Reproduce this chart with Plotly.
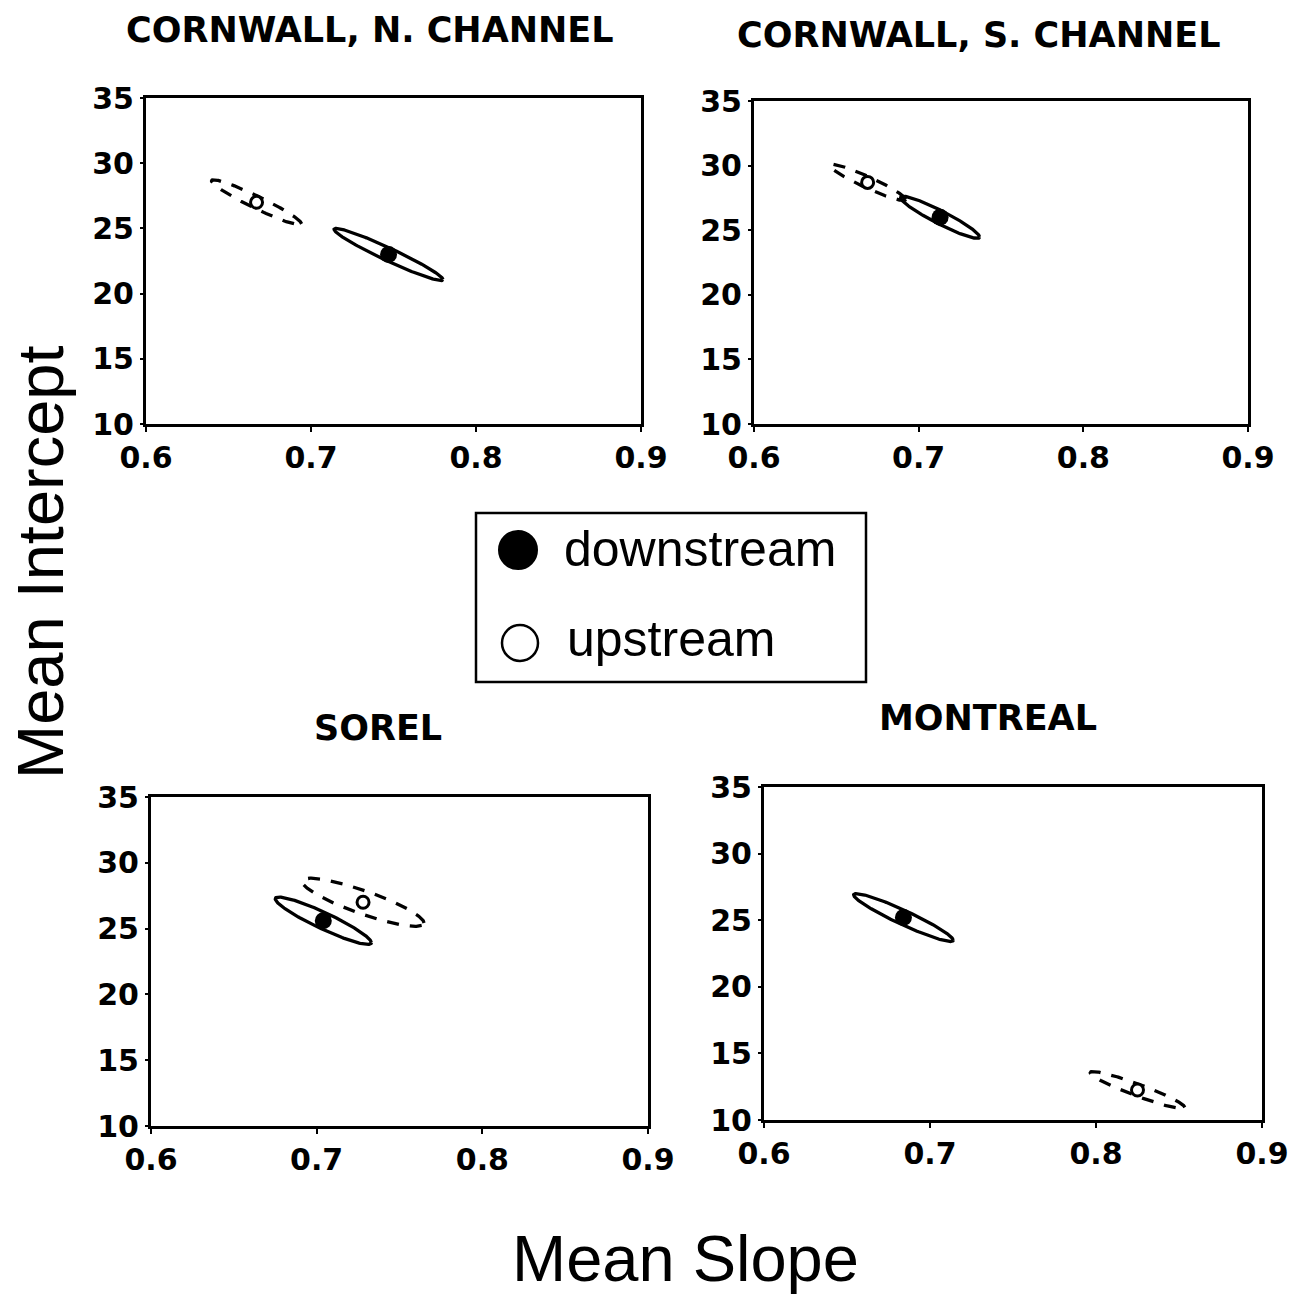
import numpy as np
import plotly.graph_objects as go

W, H = 1303, 1299

# ---------------- data ----------------
panels = ["CORNWALL, N. CHANNEL", "CORNWALL, S. CHANNEL", "SOREL", "MONTREAL"]

down_slope = [0.747, 0.713, 0.704, 0.684]
down_intercept = [23.0, 26.0, 25.6, 25.2]
down_sd_slope = [0.033, 0.024, 0.029, 0.030]
down_sd_intercept = [2.0, 1.63, 1.8, 1.8]
down_r = [-0.963, -0.937, -0.925, -0.946]

up_slope = [0.667, 0.669, 0.728, 0.825]
up_intercept = [27.0, 28.7, 27.0, 12.25]
up_sd_slope = [0.0273, 0.023, 0.0368, 0.0285]
up_sd_intercept = [1.73, 1.4, 1.83, 1.39]
up_r = [-0.954, -0.94, -0.86, -0.94]

x_ticks = [0.6, 0.7, 0.8, 0.9]
y_ticks = [10, 15, 20, 25, 30, 35]
legend_labels = ["downstream", "upstream"]

# ---------------- layout helpers ----------------
# pixel boxes of the four plotting areas: (left, right, top, bottom)
boxes = [(146, 641, 98, 424), (754, 1248, 101, 424),
         (151, 648, 797, 1126), (764, 1262, 787, 1120)]
title_pos = [(370, 30), (978, 35), (378, 728), (988, 718)]

FONT = "Liberation Sans, Arial, sans-serif"
BOLD = "DejaVu Sans, Liberation Sans, sans-serif"


def ellipse(cx, cy, sx, sy, r, n=200):
    t = np.linspace(0, 2 * np.pi, n)
    x = cx + sx * np.cos(t)
    y = cy + sy * (r * np.cos(t) + np.sqrt(1 - r * r) * np.sin(t))
    return x, y


fig = go.Figure()
annotations = []
layout_axes = {}

for i in range(4):
    xa = "x" if i == 0 else f"x{i+1}"
    ya = "y" if i == 0 else f"y{i+1}"
    L, R, T, B = boxes[i]
    layout_axes["xaxis" if i == 0 else f"xaxis{i+1}"] = dict(
        domain=[L / W, R / W], anchor=ya, range=[0.6, 0.9],
        tickvals=x_ticks, ticktext=[f"{v:.1f}" for v in x_ticks],
        showgrid=False, zeroline=False, showline=True, mirror=True,
        linecolor="black", linewidth=3, ticks="outside", ticklen=5,
        tickwidth=2, tickcolor="black", automargin=False,
        tickfont=dict(family=BOLD, size=30, color="black", weight="bold"),
    )
    layout_axes["yaxis" if i == 0 else f"yaxis{i+1}"] = dict(
        domain=[1 - B / H, 1 - T / H], anchor=xa, range=[10, 35],
        tickvals=y_ticks, showgrid=False, zeroline=False, showline=True,
        mirror=True, linecolor="black", linewidth=3, ticks="outside",
        ticklen=3, tickwidth=2, tickcolor="black", automargin=False,
        tickfont=dict(family=BOLD, size=30, color="black", weight="bold"),
    )

    ex, ey = ellipse(down_slope[i], down_intercept[i], down_sd_slope[i],
                     down_sd_intercept[i], down_r[i])
    fig.add_trace(go.Scatter(x=ex, y=ey, mode="lines", xaxis=xa, yaxis=ya,
                             line=dict(color="black", width=3.3),
                             showlegend=False, hoverinfo="skip"))
    ux, uy = ellipse(up_slope[i], up_intercept[i], up_sd_slope[i],
                     up_sd_intercept[i], up_r[i])
    fig.add_trace(go.Scatter(x=ux, y=uy, mode="lines", xaxis=xa, yaxis=ya,
                             line=dict(color="black", width=3.3, dash="12px,11px"),
                             showlegend=False, hoverinfo="skip"))
    fig.add_trace(go.Scatter(x=[down_slope[i]], y=[down_intercept[i]],
                             mode="markers", xaxis=xa, yaxis=ya,
                             marker=dict(color="black", size=17, symbol="circle"),
                             name=legend_labels[0], showlegend=False))
    fig.add_trace(go.Scatter(x=[up_slope[i]], y=[up_intercept[i]],
                             mode="markers", xaxis=xa, yaxis=ya,
                             marker=dict(color="white", size=12, symbol="circle",
                                         line=dict(color="black", width=3)),
                             name=legend_labels[1], showlegend=False))

    tx, ty = title_pos[i]
    annotations.append(dict(text=panels[i], x=tx / W, y=1 - ty / H,
                            xref="paper", yref="paper", showarrow=False,
                            xanchor="center", yanchor="middle",
                            font=dict(family=BOLD, size=35, color="black",
                                      weight="bold")))

# axis titles
annotations.append(dict(text="Mean Intercept", x=40 / W, y=1 - 562 / H,
                        xref="paper", yref="paper", showarrow=False,
                        textangle=-90, xanchor="center", yanchor="middle",
                        font=dict(family=FONT, size=65, color="black")))
annotations.append(dict(text="Mean Slope", x=685 / W, y=2 / H,
                        xref="paper", yref="paper", showarrow=False,
                        xanchor="center", yanchor="bottom",
                        font=dict(family=FONT, size=65, color="black")))

# manual legend (large symbols)
shapes = [
    dict(type="rect", xref="paper", yref="paper", x0=476 / W, x1=866 / W,
         y0=1 - 682 / H, y1=1 - 513 / H, line=dict(color="black", width=2.5),
         fillcolor="white", layer="below"),
    dict(type="circle", xref="paper", yref="paper", x0=499 / W, x1=537 / W,
         y0=1 - 569 / H, y1=1 - 531 / H, line=dict(color="black", width=2),
         fillcolor="black"),
    dict(type="circle", xref="paper", yref="paper", x0=502 / W, x1=538 / W,
         y0=1 - 661 / H, y1=1 - 625 / H, line=dict(color="black", width=2.5),
         fillcolor="white"),
]
annotations.append(dict(text=legend_labels[0], x=562 / W, y=1 - 549 / H,
                        xref="paper", yref="paper", showarrow=False,
                        xanchor="left", yanchor="middle",
                        font=dict(family=FONT, size=50, color="black")))
annotations.append(dict(text=legend_labels[1], x=565 / W, y=1 - 639 / H,
                        xref="paper", yref="paper", showarrow=False,
                        xanchor="left", yanchor="middle",
                        font=dict(family=FONT, size=50, color="black")))

fig.update_layout(width=W, height=H,
                  margin=dict(l=0, r=0, t=0, b=0, pad=0, autoexpand=False),
                  paper_bgcolor="white", plot_bgcolor="white",
                  showlegend=False, annotations=annotations, shapes=shapes,
                  **layout_axes)

fig.write_html("out.html")
